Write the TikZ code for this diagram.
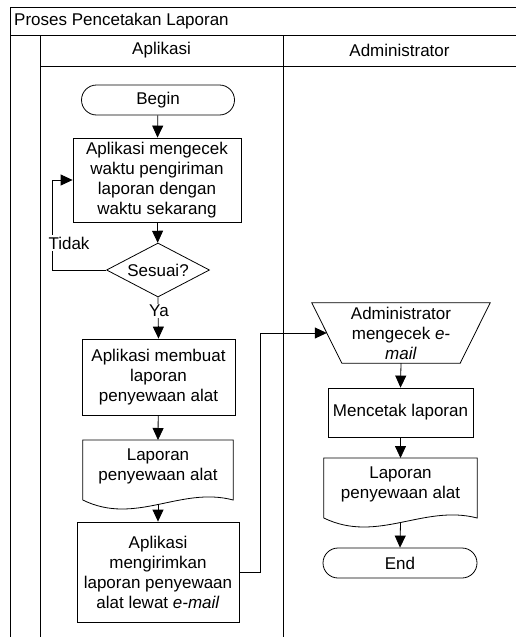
\documentclass[tikz,border=0pt]{standalone}
\usepackage{fontspec}
\setmainfont{Liberation Sans}
\usetikzlibrary{arrows.meta,calc,shapes.geometric}
\tikzset{
  txt/.style={font=\fontsize{17}{20}\selectfont, align=center, inner sep=0pt},
  frame/.style={line width=0.8pt, draw=black},
  box/.style={txt, draw, line width=0.8pt},
  term/.style={box, rounded corners=15pt, minimum height=30pt},
  dec/.style={txt, draw, line width=0.8pt, diamond, aspect=1.9, minimum width=103pt, minimum height=54pt},
  docnode/.style={txt, minimum height=52pt},
  lbl/.style={txt, fill=white, inner sep=1.5pt},
  arr/.style={line width=0.8pt, -{Triangle[length=12pt,width=11pt]}},
  ln/.style={line width=0.8pt}
}
\newcommand{\docpath}[1]{%
  \draw[ln] ($(#1.north west)+(0,60)$) -- (#1.north west) -- (#1.north east) -- ($(#1.north east)+(0,60)$)
    .. controls ($(#1.north west)!0.65!(#1.north east)+(0,46)$) and ($(#1.north west)!0.35!(#1.north east)+(0,86)$)
    .. ($(#1.north west)+(0,60)$);
  \coordinate (#1-b) at ($(#1.north)+(0,64.5)$);
}
\begin{document}
\begin{tikzpicture}[x=1pt,y=-1pt]
\useasboundingbox (0,0) rectangle (516,637);
% frame
\draw[frame] (10,637) -- (10,7) -- (516,7);
\draw[frame] (10,35) -- (516,35);
\draw[frame] (40,66) -- (516,66);
\draw[frame] (40,35) -- (40,637);
\draw[frame] (283,35) -- (283,637);
\node[txt, anchor=west] (title) at (14,21) {Proses Pencetakan Laporan};
\node[txt] (h1) at (161.5,50.5) {Aplikasi};
\node[txt] (h2) at (399.5,50.5) {Administrator};

% Aplikasi lane
\node[term, minimum width=153pt] (begin) at (158,100) {Begin};
\node[box, minimum width=168pt, minimum height=84pt] (cek) at (157,180)
  {Aplikasi mengecek\\waktu pengiriman\\laporan dengan\\waktu sekarang};
\node[dec] (ses) at (158,270) {Sesuai?};
\node[box, minimum width=153pt, minimum height=76pt] (buat) at (158.5,377)
  {Aplikasi membuat\\laporan\\penyewaan alat};
\node[docnode, minimum width=150pt, anchor=north] (doc1) at (158,440)
  {Laporan\\penyewaan alat};
\docpath{doc1}
\node[box, minimum width=162pt, minimum height=100pt] (kirim) at (158,572)
  {Aplikasi\\mengirimkan\\laporan penyewaan\\alat lewat \textit{e-mail}};

% Administrator lane
\node[txt, minimum width=178pt, minimum height=60pt] (mi) at (401,333)
  {Administrator\\mengecek \textit{e-}\\\textit{mail}};
\draw[ln] (mi.north west) -- (mi.north east) -- ($(mi.south east)+(-30,0)$) -- ($(mi.south west)+(30,0)$) -- cycle;
\coordinate (mi-l) at ($(mi.west)+(15,0)$);
\node[box, minimum width=145pt, minimum height=49pt] (cetak) at (400.5,412.5) {Mencetak laporan};
\node[docnode, minimum width=153pt, anchor=north] (doc2) at (400.5,458)
  {Laporan\\penyewaan alat};
\docpath{doc2}
\node[term, minimum width=154pt] (end) at (400,563) {End};

% connectors
\draw[arr] (begin) -- (cek);
\draw[arr] (cek) -- (ses);
\draw[arr] (ses.west) -- ++(-54,0) |- (cek.west);
\draw[arr] (ses.south) -- (buat.north);
\draw[arr] (buat) -- (doc1.north);
\draw[arr] (doc1-b) -- (kirim.north);
\draw[arr] (kirim.east) -- ++(21,0) |- (mi-l);
\draw[arr] (mi.south) -- (cetak.north);
\draw[arr] (cetak) -- (doc2.north);
\draw[arr] (doc2-b) -- (end.north);

% connector labels
\node[lbl] (tidak) at (69,243) {Tidak};
\node[lbl] (ya) at (159,311) {Ya};
\end{tikzpicture}
\end{document}
